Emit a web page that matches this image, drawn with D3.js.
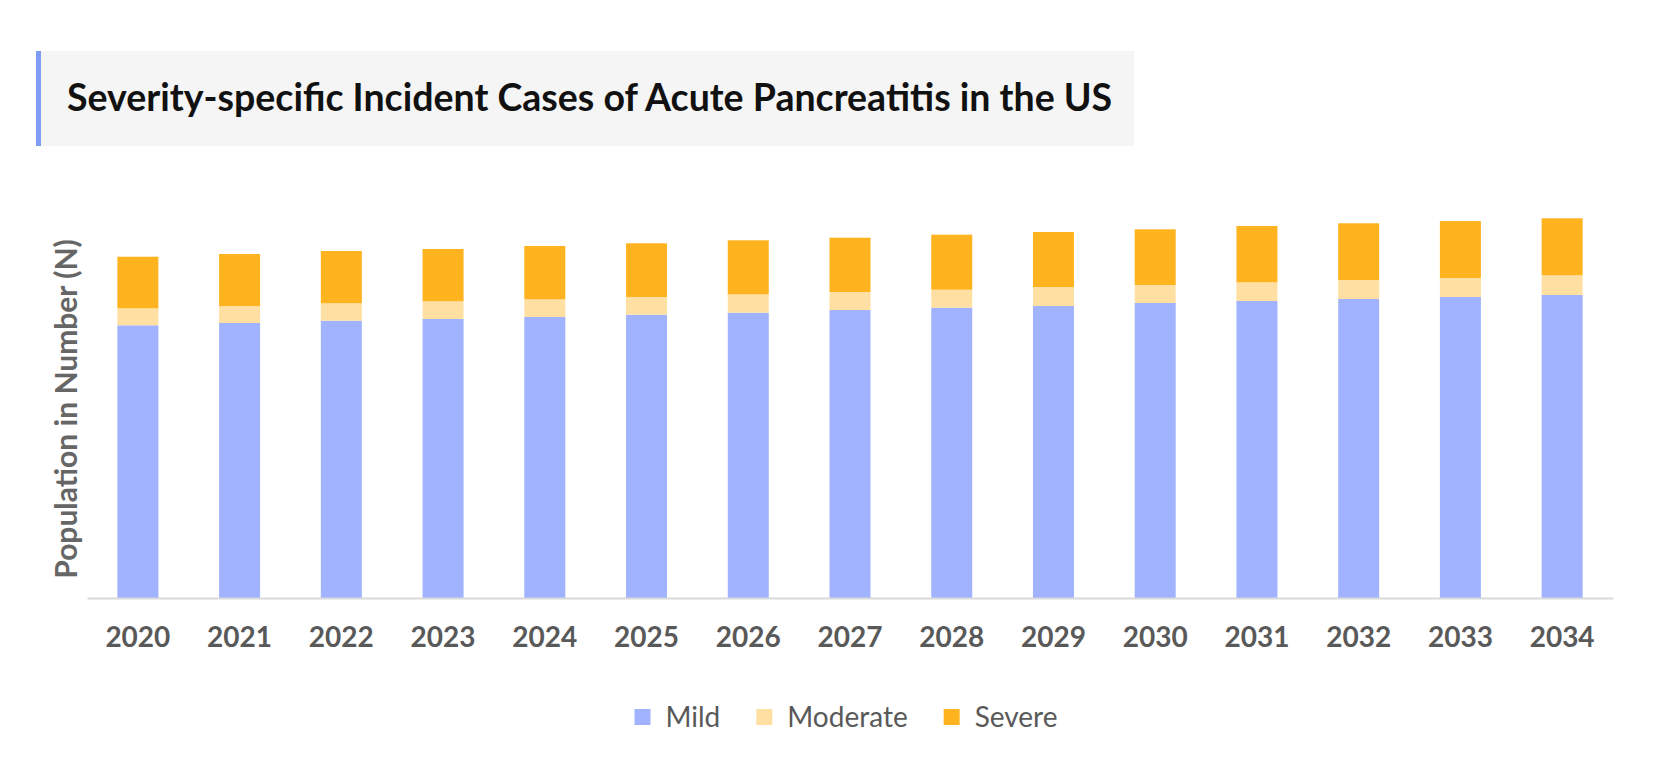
<!DOCTYPE html>
<html>
<head>
<meta charset="utf-8">
<script src="https://cdn.jsdelivr.net/npm/d3@7"></script>
<style>
    html, body { margin: 0; padding: 0; background: #fff; overflow: hidden; }
    svg { display: block; font-family: Lato, "Open Sans", sans-serif; }
</style>
</head>
<body>
<div id="chart"></div>
<script>
const years = ["2020", "2021", "2022", "2023", "2024", "2025", "2026", "2027", "2028", "2029", "2030", "2031", "2032", "2033", "2034"];
const mild = [272700, 275000, 277300, 279000, 281000, 283300, 285300, 288000, 290300, 292000, 295000, 297000, 299000, 301000, 303000];
const moderate = [17000, 17000, 17400, 17700, 17700, 17700, 18400, 18000, 18000, 19000, 18000, 18700, 19000, 19000, 19700];
const severe = [51600, 52000, 52300, 52300, 53300, 53700, 54000, 54300, 55000, 55000, 55700, 56300, 56700, 57000, 57000];
const seriesNames = ["Mild", "Moderate", "Severe"];
const colors = ["#a1b3fe", "#ffe0a2", "#ffb31f"];

const width = 1667, height = 764;
const margin = { top: 198, right: 54, bottom: 166, left: 87 };
const innerWidth = width - margin.left - margin.right;
const innerHeight = height - margin.top - margin.bottom;

const svg = d3.select("#chart").append("svg")
    .attr("width", width)
    .attr("height", height);

// Title box
svg.append("rect")
    .attr("x", 38).attr("y", 51)
    .attr("width", 1096).attr("height", 95)
    .attr("fill", "#f5f5f5");
svg.append("rect")
    .attr("x", 36).attr("y", 51)
    .attr("width", 5).attr("height", 95)
    .attr("fill", "#7f9cf5");
svg.append("text")
    .attr("x", 67).attr("y", 111)
    .attr("font-size", "37.5px")
    .attr("font-weight", 700)
    .attr("fill", "#111")
    .text("Severity-specific Incident Cases of Acute Pancreatitis in the US");

const data = years.map((y, i) => ({ year: y, Mild: mild[i], Moderate: moderate[i], Severe: severe[i] }));
const stacked = d3.stack().keys(seriesNames)(data);

const x = d3.scaleBand()
    .domain(years)
    .range([0, innerWidth])
    .paddingInner(0.597)
    .paddingOuter(0.2985);

const y = d3.scaleLinear()
    .domain([0, 400000])
    .range([innerHeight, 0]);

const g = svg.append("g")
    .attr("transform", `translate(${margin.left},${margin.top})`);

// Bars
g.selectAll("g.layer")
    .data(stacked)
    .enter()
    .append("g")
    .attr("class", "layer")
    .attr("fill", (d, i) => colors[i])
    .selectAll("rect")
    .data(d => d)
    .enter()
    .append("rect")
    .attr("x", d => x(d.data.year))
    .attr("y", d => y(d[1]))
    .attr("width", x.bandwidth())
    .attr("height", d => y(d[0]) - y(d[1]));

// X axis
const xAxis = g.append("g")
    .attr("transform", `translate(0,${innerHeight})`)
    .call(d3.axisBottom(x).tickSize(0).tickPadding(29));
xAxis.select(".domain").attr("stroke", "#d9d9d9").attr("stroke-width", 2);
xAxis.selectAll("text")
    .attr("fill", "#595959")
    .attr("font-size", "28px")
    .attr("font-weight", 700)
    .attr("font-family", "Lato, sans-serif");

// Y label
svg.append("text")
    .attr("transform", `translate(77,${409}) rotate(-90)`)
    .attr("text-anchor", "middle")
    .attr("font-size", "30px")
    .attr("font-weight", 700)
    .attr("fill", "#666")
    .text("Population in Number (N)");

// Legend
const legend = svg.append("g");
let lx = 0;
seriesNames.forEach((name, i) => {
    const item = legend.append("g").attr("transform", `translate(${lx},0)`);
    item.append("rect")
        .attr("x", 0).attr("y", -8)
        .attr("width", 16).attr("height", 16)
        .attr("fill", colors[i]);
    const t = item.append("text")
        .attr("x", 31).attr("y", 0)
        .attr("dy", "0.35em")
        .attr("font-size", "28px")
        .attr("fill", "#595959")
        .text(name);
    lx += 31 + t.node().getComputedTextLength() + 36;
});
const legendWidth = lx - 36;
legend.attr("transform", `translate(${846 - legendWidth / 2},717)`);
</script>
</body>
</html>
